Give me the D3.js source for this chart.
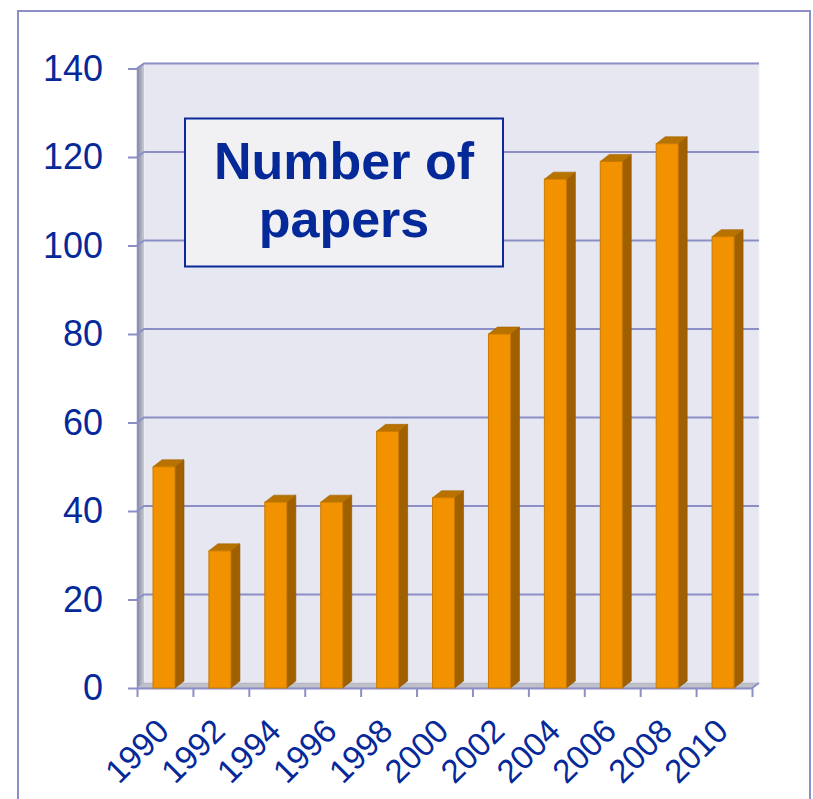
<!DOCTYPE html>
<html>
<head>
<meta charset="utf-8">
<script src="https://cdn.jsdelivr.net/npm/d3@7"></script>
<style>
	body { margin: 0; background: #fff; }
	svg { display: block; font-family: 'Liberation Sans', Arial, sans-serif; }
</style>
</head>
<body>
<svg id="chart" width="813" height="799"></svg>
<script>
// values
const years = ['1990', '1992', '1994', '1996', '1998', '2000', '2002', '2004', '2006', '2008', '2010'];
const papers = [50, 31, 42, 42, 58, 43, 80, 115, 119, 123, 102];
const yTicks = [0, 20, 40, 60, 80, 100, 120, 140];
const titleLines = ['Number of', 'papers'];

const svg = d3.select('#chart');
const blue = '#06299a';
const grid = '#8b8fc6';
const wall = { dx: 7, dy: -5 };
const box = { dx: 9, dy: -7 };

const x = d3.scaleBand().domain(years).range([137, 752]).padding(0);
const xEdge = d3.scaleLinear().domain([0, years.length]).range([137, 752]);
const y = d3.scaleLinear().domain([0, 140]).range([688, 68.5]);

const defs = svg.append('defs');
const lw = defs.append('linearGradient').attr('id', 'leftWall')
	.attr('x1', '0%').attr('x2', '100%').attr('y1', '0%').attr('y2', '0%');
lw.append('stop').attr('offset', '0%').attr('stop-color', '#85869a');
lw.append('stop').attr('offset', '100%').attr('stop-color', '#c9cad4');

// outer frame
svg.append('rect')
	.attr('x', 18).attr('y', 11).attr('width', 792).attr('height', 800)
	.attr('fill', '#fff').attr('stroke', grid).attr('stroke-width', 2);

const x0 = x.range()[0], x1 = x.range()[1];
const pts = a => a.map(p => p.join(',')).join(' ');

// back wall
svg.append('polygon')
	.attr('points', pts([
		[x0 + wall.dx, y(0) + wall.dy], [x1 + wall.dx, y(0) + wall.dy],
		[x1 + wall.dx, y(140) + wall.dy - 1], [x0 + wall.dx, y(140) + wall.dy - 1]]))
	.attr('fill', '#e6e7f0').attr('stroke', '#f4f4f8').attr('stroke-width', 1);

// left wall
svg.append('polygon')
	.attr('points', pts([
		[x0, y(0)], [x0 + wall.dx, y(0) + wall.dy],
		[x0 + wall.dx, y(140) + wall.dy - 1], [x0, y(140) - 1]]))
	.attr('fill', 'url(#leftWall)');

// floor
svg.append('polygon')
	.attr('points', pts([
		[x0, y(0)], [x1, y(0)], [x1 + wall.dx, y(0) + wall.dy], [x0 + wall.dx, y(0) + wall.dy]]))
	.attr('fill', '#bfc0c9').attr('stroke', '#a9aab8').attr('stroke-width', 0.6);

// gridlines on the back wall
const gl = svg.append('g').attr('class', 'grid');
yTicks.filter(d => d > 0).forEach(d => {
	gl.append('polyline')
		.attr('points', pts([[x0, y(d)], [x0 + wall.dx, y(d) + wall.dy], [x1 + wall.dx, y(d) + wall.dy]]))
		.attr('fill', 'none').attr('stroke', grid).attr('stroke-width', 2);
});

// y axis
const yAxis = svg.append('g')
	.attr('transform', `translate(${x0},0)`)
	.call(d3.axisLeft(y).tickValues(yTicks).tickSize(9).tickPadding(25).tickSizeOuter(0));
yAxis.select('.domain').attr('stroke', grid).attr('stroke-width', 1.5);
yAxis.selectAll('.tick line').attr('stroke', grid).attr('stroke-width', 2);
yAxis.selectAll('.tick text')
	.attr('fill', blue).attr('font-size', 36).attr('dy', '0.33em');

// x axis: boundary ticks
const xAxis = svg.append('g')
	.attr('transform', `translate(0,${y(0)})`)
	.call(d3.axisBottom(xEdge).ticks(years.length).tickSize(9).tickFormat('').tickSizeOuter(0));
xAxis.select('.domain').attr('stroke', grid).attr('stroke-width', 2);
xAxis.selectAll('.tick line').attr('stroke', grid).attr('stroke-width', 2);
svg.append('line')
	.attr('x1', x1).attr('y1', y(0)).attr('x2', x1 + wall.dx).attr('y2', y(0) + wall.dy)
	.attr('stroke', grid).attr('stroke-width', 2);

// x labels
svg.append('g').selectAll('text')
	.data(years)
	.enter()
	.append('text')
	.attr('transform', d => `translate(${x(d) + x.bandwidth() / 2 + 6},733) rotate(-45)`)
	.attr('text-anchor', 'end')
	.attr('fill', blue)
	.attr('font-size', 33)
	.text(d => d);

// bars
const bw = 22;
const bars = svg.append('g').selectAll('g')
	.data(years.map((d, i) => ({ year: d, value: papers[i] })))
	.enter()
	.append('g');

const bx = d => x(d.year) + 16;

bars.append('polygon')
	.attr('points', d => pts([
		[bx(d) + bw, y(0)], [bx(d) + bw + box.dx, y(0) + box.dy],
		[bx(d) + bw + box.dx, y(d.value) + box.dy], [bx(d) + bw, y(d.value)]]))
	.attr('fill', '#a06000').attr('stroke', '#8c5400').attr('stroke-width', 0.6);

bars.append('polygon')
	.attr('points', d => pts([
		[bx(d), y(d.value)], [bx(d) + bw, y(d.value)],
		[bx(d) + bw + box.dx, y(d.value) + box.dy], [bx(d) + box.dx, y(d.value) + box.dy]]))
	.attr('fill', '#b87200').attr('stroke', '#a36400').attr('stroke-width', 0.6);

bars.append('rect')
	.attr('x', bx)
	.attr('y', d => y(d.value))
	.attr('width', bw)
	.attr('height', d => y(0) - y(d.value))
	.attr('fill', '#f29200')
	.attr('stroke', '#c97a00')
	.attr('stroke-width', 1);

// title box
const tb = svg.append('g');
tb.append('rect')
	.attr('x', 185).attr('y', 118.5).attr('width', 318).attr('height', 148)
	.attr('fill', '#f1f1f3').attr('stroke', '#0a2a9c').attr('stroke-width', 2);
tb.append('text')
	.attr('text-anchor', 'middle')
	.attr('font-size', 52)
	.attr('font-weight', 'bold')
	.attr('fill', blue)
	.selectAll('tspan')
	.data(titleLines)
	.enter()
	.append('tspan')
	.attr('x', 344)
	.attr('y', (d, i) => 179 + i * 58)
	.text(d => d);
</script>
</body>
</html>
